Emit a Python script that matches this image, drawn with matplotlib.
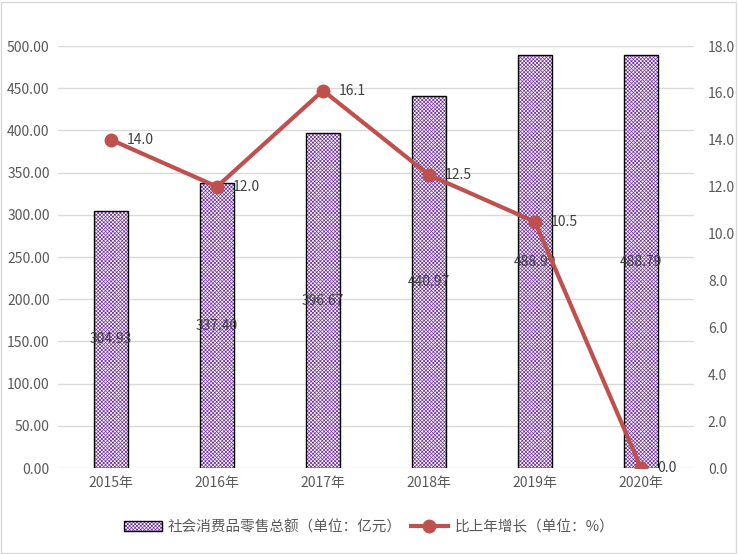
import matplotlib
matplotlib.use("Agg")
import matplotlib.pyplot as plt
from matplotlib.patches import Rectangle, Patch
from matplotlib.lines import Line2D
import numpy as np

plt.rcParams['font.family'] = ['Noto Sans CJK SC', 'DejaVu Sans']
plt.rcParams['hatch.linewidth'] = 0.5

years = ['2015年', '2016年', '2017年', '2018年', '2019年', '2020年']
sales = [304.93, 337.40, 396.67, 440.97, 488.99, 488.79]
growth = [14.0, 12.0, 16.1, 12.5, 10.5, 0.0]
left_ticks = [0, 50, 100, 150, 200, 250, 300, 350, 400, 450, 500]
right_ticks = [0, 2, 4, 6, 8, 10, 12, 14, 16, 18]

HATCH = 'xxxxxxxxx'
PURPLE = '#7030A0'

W, H = 738, 554
fig = plt.figure(figsize=(W/100, H/100), dpi=100)
fig.patches.append(Rectangle((1/W, 1/H), 1-3/W, 1-3/H, transform=fig.transFigure,
                             fill=False, edgecolor='#d9d9d9', linewidth=1))
ax = fig.add_axes([58/W, 1-468/H, (694-58)/W, (468-46)/H])
ax2 = ax.twinx()

x = np.arange(len(years))
ax.bar(x, sales, width=0.315, facecolor='white', edgecolor=PURPLE,
       hatch=HATCH, linewidth=0, zorder=2)
ax.bar(x, sales, width=0.315, facecolor='none', edgecolor='black', linewidth=1.0, zorder=3)
for xi, v in zip(x, sales):
    ax.text(xi, v/2, f'{v:.2f}', ha='center', va='center', fontsize=10, color='#404040', zorder=4)

ax.set_xlim(-0.5, len(years)-0.5)
ax.set_ylim(0, 500)
ax.set_yticks(left_ticks)
ax.set_yticklabels([f'{t:.2f}' for t in left_ticks])
ax.set_xticks(x)
ax.set_xticklabels(years)
ax.grid(axis='y', color='#d9d9d9', linewidth=1, zorder=0)
ax.set_axisbelow(True)
for s in ax.spines.values():
    s.set_visible(False)
for s in ax2.spines.values():
    s.set_visible(False)
ax.tick_params(axis='both', length=0, labelsize=10, colors='#595959', pad=6)

ax2.plot(x, growth, color='#C0504D', linewidth=3, marker='o', markersize=9, zorder=5)
for xi, v in zip(x, growth):
    ax2.text(xi + 0.15, v, f'{v:.1f}', ha='left', va='center', fontsize=10, color='#404040')
ax2.set_ylim(0, 18)
ax2.set_yticks(right_ticks)
ax2.set_yticklabels([f'{t:.1f}' for t in right_ticks])
ax2.tick_params(axis='y', length=0, labelsize=10, colors='#595959', pad=10)

h1 = Patch(facecolor='white', edgecolor=PURPLE, hatch=HATCH, linewidth=0)
h1b = Patch(facecolor='none', edgecolor='black', linewidth=1)
h2 = Line2D([0], [0], color='#C0504D', linewidth=3, marker='o', markersize=9)
fig.legend([(h1, h1b), h2], ['社会消费品零售总额（单位：亿元）', '比上年增长（单位：%）'],
           loc='center', bbox_to_anchor=(0.5, 1-527/H), ncol=2, frameon=False,
           fontsize=10.5, labelcolor='#595959', handlelength=2.6, columnspacing=0.6,
           handletextpad=0.4)

fig.savefig('out.png', dpi=100)
